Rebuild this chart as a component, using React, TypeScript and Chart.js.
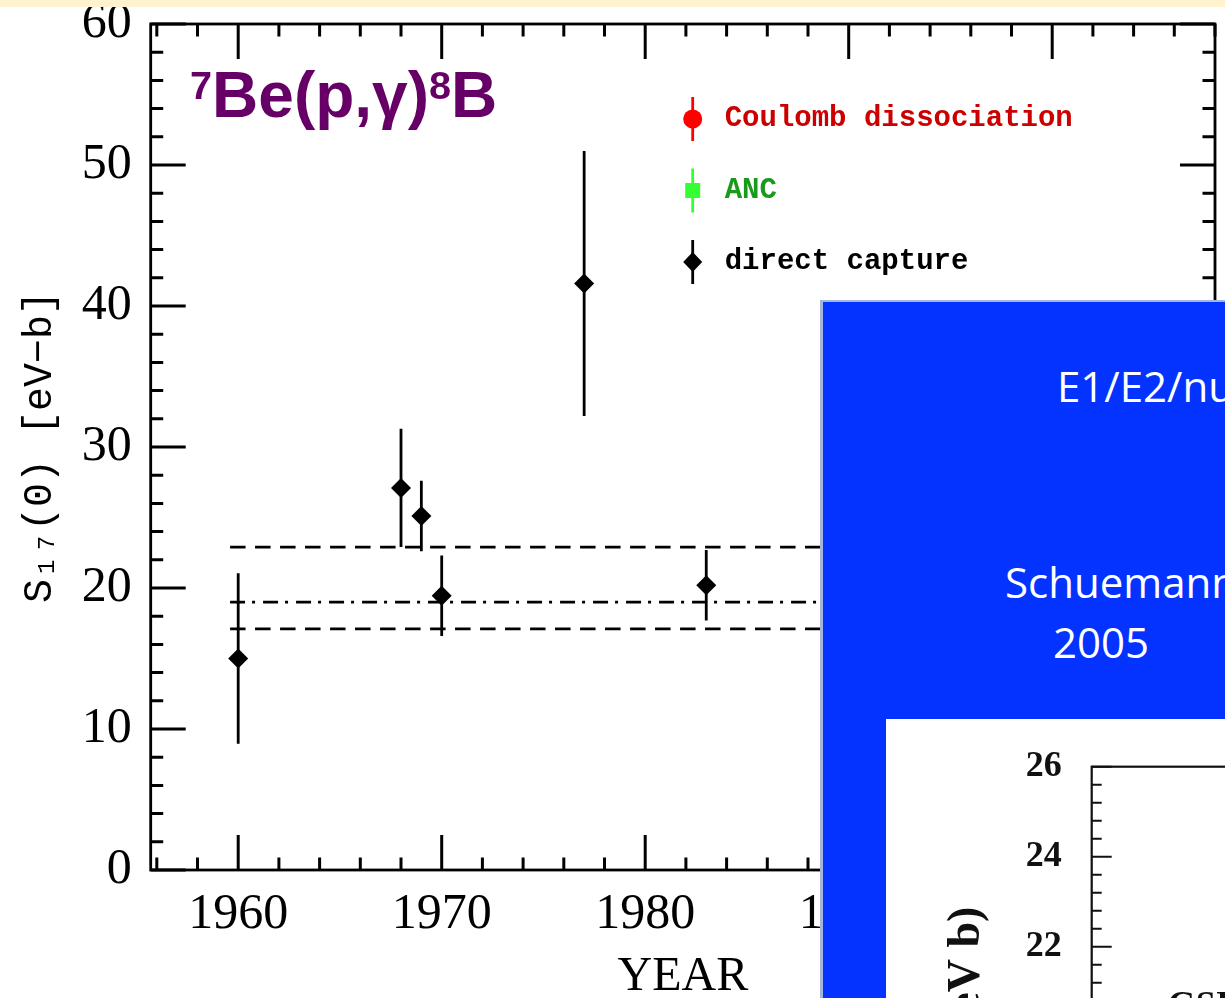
import React, { useEffect, useRef } from 'react';
import { Chart, registerables } from 'chart.js';

Chart.register(...registerables);

// ---------------- main plot data ----------------
const captureYears = [1960, 1968, 1969, 1970, 1977, 1983];
const captureS17 = [15.0, 27.1, 25.1, 19.45, 41.6, 20.2];
const captureErr = [6.05, 4.2, 2.5, 2.85, 9.4, 2.5];

const coulombYears: number[] = [];
const coulombS17: number[] = [];
const coulombErr: number[] = [];

const ancYears: number[] = [];
const ancS17: number[] = [];
const ancErr: number[] = [];

const bandYears = [1959.6, 2008];
const bandUpper = [22.9, 22.9];
const bandMean = [19.0, 19.0];
const bandLower = [17.1, 17.1];

const xTickLabels = [1960, 1970, 1980, 1990, 2000];
const yTickLabels = [0, 10, 20, 30, 40, 50, 60];
const xRange = [1955.7, 2008];
const yRange = [0, 60];

// ---------------- inset plot data ----------------
const insetYTickLabels = [18, 20, 22, 24, 26];
const insetYRange = [18, 26];
const insetXRange = [0, 1];

const FONT_MONO = '"Liberation Mono", "DejaVu Sans Mono", monospace';
const FONT_SERIF = '"Liberation Serif", "DejaVu Serif", serif';

type TickSpec = {
  xMinor: number;
  xMajor: number;
  yMinor: number;
  yMajor: number;
  majorLen: number;
  minorLen: number;
  frameWidth: number;
  tickWidth: number;
  color: string;
};

function frameTicksPlugin(spec: TickSpec) {
  const isMajor = (v: number, step: number) => Math.abs(v / step - Math.round(v / step)) < 1e-6;
  return {
    id: 'frameTicks',
    afterDraw(chart: any) {
      const { ctx, chartArea: a, scales } = chart;
      const xs = scales.x;
      const ys = scales.y;
      ctx.save();
      ctx.strokeStyle = spec.color;
      ctx.lineCap = 'butt';
      ctx.lineWidth = spec.tickWidth;
      if (spec.xMinor > 0) {
        const start = Math.ceil(xs.min / spec.xMinor - 1e-9);
        for (let i = start; i * spec.xMinor <= xs.max + 1e-9; i++) {
          const v = i * spec.xMinor;
          const px = xs.getPixelForValue(v);
          const len = isMajor(v, spec.xMajor) ? spec.majorLen : spec.minorLen;
          ctx.beginPath();
          ctx.moveTo(px, a.bottom);
          ctx.lineTo(px, a.bottom - len);
          ctx.moveTo(px, a.top);
          ctx.lineTo(px, a.top + len);
          ctx.stroke();
        }
      }
      if (spec.yMinor > 0) {
        const start = Math.ceil(ys.min / spec.yMinor - 1e-9);
        for (let i = start; i * spec.yMinor <= ys.max + 1e-9; i++) {
          const v = i * spec.yMinor;
          const py = ys.getPixelForValue(v);
          const len = isMajor(v, spec.yMajor) ? spec.majorLen : spec.minorLen;
          ctx.beginPath();
          ctx.moveTo(a.left, py);
          ctx.lineTo(a.left + len, py);
          ctx.moveTo(a.right, py);
          ctx.lineTo(a.right - len, py);
          ctx.stroke();
        }
      }
      ctx.lineWidth = spec.frameWidth;
      ctx.strokeRect(a.left, a.top, a.right - a.left, a.bottom - a.top);
      ctx.restore();
    },
  };
}

const errorBarPlugin = {
  id: 'errorBars',
  beforeDatasetsDraw(chart: any) {
    const { ctx, chartArea: a } = chart;
    const ys = chart.scales.y;
    ctx.save();
    ctx.beginPath();
    ctx.rect(a.left, a.top, a.right - a.left, a.bottom - a.top);
    ctx.clip();
    chart.data.datasets.forEach((ds: any, i: number) => {
      if (!ds.errors) return;
      const meta = chart.getDatasetMeta(i);
      meta.data.forEach((el: any, j: number) => {
        const v = ds.data[j].y;
        const e = ds.errors[j];
        ctx.strokeStyle = ds.borderColor;
        ctx.lineWidth = 2.8;
        ctx.beginPath();
        ctx.moveTo(el.x, ys.getPixelForValue(v + e));
        ctx.lineTo(el.x, ys.getPixelForValue(v - e));
        ctx.stroke();
      });
    });
    ctx.restore();
  },
};

const insideLegendPlugin = {
  id: 'insideLegend',
  afterDatasetsDraw(chart: any) {
    const { ctx, chartArea: a } = chart;
    const entries = chart.data.datasets.filter((d: any) => d.legendTextColor);
    entries.forEach((ds: any, i: number) => {
      const cx = a.left + 542;
      const cy = a.top + 95 + i * 71.5;
      const tx = a.left + 574;
      ctx.save();
      ctx.strokeStyle = ds.backgroundColor;
      ctx.fillStyle = ds.backgroundColor;
      ctx.lineWidth = 2.8;
      ctx.beginPath();
      ctx.moveTo(cx, cy - 22);
      ctx.lineTo(cx, cy + 22);
      ctx.stroke();
      ctx.beginPath();
      if (ds.pointStyle === 'circle') {
        ctx.arc(cx, cy, 9.5, 0, Math.PI * 2);
      } else if (ds.pointStyle === 'rect') {
        ctx.rect(cx - 7.5, cy - 7.5, 15, 15);
      } else {
        ctx.moveTo(cx, cy - 10);
        ctx.lineTo(cx + 9.5, cy);
        ctx.lineTo(cx, cy + 10);
        ctx.lineTo(cx - 9.5, cy);
        ctx.closePath();
      }
      ctx.fill();
      ctx.fillStyle = ds.legendTextColor;
      ctx.font = `bold 29px ${FONT_MONO}`;
      ctx.textBaseline = 'middle';
      ctx.textAlign = 'left';
      ctx.fillText(ds.label, tx, cy);
      ctx.restore();
    });
  },
};

const insetLabelsPlugin = {
  id: 'insetLabels',
  afterDraw(chart: any) {
    const { ctx, chartArea: a } = chart;
    ctx.save();
    ctx.fillStyle = '#111';
    ctx.font = `bold 46px ${FONT_SERIF}`;
    ctx.translate(a.left - 113, a.top + 140);
    ctx.rotate(-Math.PI / 2);
    ctx.textAlign = 'right';
    ctx.textBaseline = 'alphabetic';
    ctx.fillText('S\u2081\u2087(0) (eV b)', 0, 0);
    ctx.restore();
    ctx.save();
    ctx.fillStyle = '#111';
    ctx.font = `bold 36px ${FONT_SERIF}`;
    ctx.textAlign = 'left';
    ctx.textBaseline = 'alphabetic';
    ctx.fillText('GSI', a.left + 76, a.top + 249);
    ctx.restore();
  },
};

const pts = (xs: number[], ys: number[]) => xs.map((x, i) => ({ x, y: ys[i] }));

const noScalePadding = (s: any) => {
  s.paddingTop = 0;
  s.paddingBottom = 0;
  s.paddingLeft = 0;
  s.paddingRight = 0;
};

function buildMainConfig(): any {
  return {
    type: 'scatter',
    data: {
      datasets: [
        {
          label: 'upper',
          data: pts(bandYears, bandUpper),
          showLine: true,
          borderColor: '#000',
          borderWidth: 2.6,
          borderDash: [15.5, 9.5],
          pointRadius: 0,
          fill: false,
        },
        {
          label: 'mean',
          data: pts(bandYears, bandMean),
          showLine: true,
          borderColor: '#000',
          borderWidth: 2.6,
          borderDash: [15, 7, 3, 8],
          pointRadius: 0,
          fill: false,
        },
        {
          label: 'lower',
          data: pts(bandYears, bandLower),
          showLine: true,
          borderColor: '#000',
          borderWidth: 2.6,
          borderDash: [15.5, 9.5],
          pointRadius: 0,
          fill: false,
        },
        {
          label: 'Coulomb dissociation',
          data: pts(coulombYears, coulombS17),
          errors: coulombErr,
          pointStyle: 'circle',
          pointRadius: 9,
          backgroundColor: '#FF0000',
          borderColor: '#FF0000',
          borderWidth: 0,
          legendTextColor: '#CC0000',
        },
        {
          label: 'ANC',
          data: pts(ancYears, ancS17),
          errors: ancErr,
          pointStyle: 'rect',
          pointRadius: 9.5,
          backgroundColor: '#33FF33',
          borderColor: '#33FF33',
          borderWidth: 0,
          legendTextColor: '#1A9A1A',
        },
        {
          label: 'direct capture',
          data: pts(captureYears, captureS17),
          errors: captureErr,
          pointStyle: 'rectRot',
          pointRadius: 10,
          backgroundColor: '#000',
          borderColor: '#000',
          borderWidth: 0,
          legendTextColor: '#000',
        },
      ],
    },
    options: {
      responsive: false,
      animation: false,
      devicePixelRatio: 1,
      layout: { padding: { top: 24, right: 9, left: 0, bottom: 0 } },
      plugins: { legend: { display: false }, tooltip: { enabled: false } },
      scales: {
        x: {
          type: 'linear',
          position: 'bottom',
          min: xRange[0],
          max: xRange[1],
          afterBuildTicks: (s: any) => {
            s.ticks = xTickLabels.map((value) => ({ value }));
          },
          afterFit: (s: any) => {
            s.height = 128;
            noScalePadding(s);
          },
          grid: { display: false, drawTicks: false },
          border: { display: false },
          ticks: {
            color: '#000',
            padding: 20,
            maxRotation: 0,
            autoSkip: false,
            font: { family: FONT_SERIF, size: 50, lineHeight: 1 },
            callback: (v: any) => String(v),
          },
          title: {
            display: true,
            text: 'YEAR',
            color: '#000',
            font: { family: FONT_SERIF, size: 48, lineHeight: 0.85 },
            padding: 0,
          },
        },
        y: {
          type: 'linear',
          position: 'left',
          min: yRange[0],
          max: yRange[1],
          afterBuildTicks: (s: any) => {
            s.ticks = yTickLabels.map((value) => ({ value }));
          },
          afterFit: (s: any) => {
            s.width = 150.7;
            noScalePadding(s);
          },
          grid: { display: false, drawTicks: false },
          border: { display: false },
          ticks: {
            color: '#000',
            padding: 19,
            autoSkip: false,
            font: { family: FONT_SERIF, size: 50, lineHeight: 1 },
            callback: (v: any) => String(v),
          },
          title: {
            display: true,
            text: 'S\u2081\u2087(0) [eV\u2212b]',
            color: '#000',
            font: { family: FONT_MONO, size: 40, lineHeight: 1 },
            padding: { top: 20, bottom: 0 },
          },
        },
      },
    },
    plugins: [
      errorBarPlugin,
      insideLegendPlugin,
      frameTicksPlugin({
        xMinor: 2,
        xMajor: 10,
        yMinor: 2,
        yMajor: 10,
        majorLen: 35,
        minorLen: 12.5,
        frameWidth: 2.8,
        tickWidth: 3,
        color: '#000',
      }),
    ],
  };
}

function buildInsetConfig(): any {
  return {
    type: 'scatter',
    data: { datasets: [{ label: 'S17(0)', data: [] }] },
    options: {
      responsive: false,
      animation: false,
      devicePixelRatio: 1,
      layout: { padding: { top: 47.7, right: 20, left: 0, bottom: 0 } },
      plugins: { legend: { display: false }, tooltip: { enabled: false } },
      scales: {
        x: {
          type: 'linear',
          min: insetXRange[0],
          max: insetXRange[1],
          afterFit: (s: any) => {
            s.height = 92.3;
            noScalePadding(s);
          },
          grid: { display: false, drawTicks: false },
          border: { display: false },
          ticks: { display: false },
        },
        y: {
          type: 'linear',
          min: insetYRange[0],
          max: insetYRange[1],
          afterBuildTicks: (s: any) => {
            s.ticks = insetYTickLabels.map((value) => ({ value }));
          },
          afterFit: (s: any) => {
            s.width = 205.7;
            noScalePadding(s);
          },
          grid: { display: false, drawTicks: false },
          border: { display: false },
          ticks: {
            color: '#111',
            padding: 30,
            autoSkip: false,
            font: { family: FONT_SERIF, size: 36, weight: 'bold', lineHeight: 1 },
            callback: (v: any) => String(v),
          },
        },
      },
    },
    plugins: [
      frameTicksPlugin({
        xMinor: 0,
        xMajor: 1,
        yMinor: 0.4,
        yMajor: 2,
        majorLen: 20,
        minorLen: 10,
        frameWidth: 2.2,
        tickWidth: 2,
        color: '#111',
      }),
      insetLabelsPlugin,
    ],
  };
}

export default function App() {
  const mainRef = useRef<HTMLCanvasElement>(null);
  const insetRef = useRef<HTMLCanvasElement>(null);

  useEffect(() => {
    const c1 = new Chart(mainRef.current as HTMLCanvasElement, buildMainConfig());
    const c2 = new Chart(insetRef.current as HTMLCanvasElement, buildInsetConfig());
    return () => {
      c1.destroy();
      c2.destroy();
    };
  }, []);

  const whiteText: React.CSSProperties = {
    position: 'absolute',
    color: '#fff',
    fontFamily: '"Open Sans", "Noto Sans", sans-serif',
    fontSize: 42,
    lineHeight: '42px',
    whiteSpace: 'nowrap',
  };

  const sup: React.CSSProperties = {
    fontSize: '0.62em',
    position: 'relative',
    top: '-0.45em',
  };

  return (
    <div
      style={{
        position: 'fixed',
        left: 0,
        top: 0,
        width: 1225,
        height: 998,
        overflow: 'hidden',
        background: '#fff',
      }}
    >
      <canvas
        ref={mainRef}
        width={1225}
        height={998}
        style={{ position: 'absolute', left: 0, top: 0, width: 1225, height: 998 }}
      />
      <div
        style={{ position: 'absolute', left: 0, top: 0, width: 1225, height: 7, background: '#FFF2CC' }}
      />
      <div
        style={{
          position: 'absolute',
          left: 190,
          top: 63,
          color: '#660066',
          fontFamily: '"Liberation Sans", Arial, sans-serif',
          fontWeight: 'bold',
          fontSize: 64,
          lineHeight: '64px',
          whiteSpace: 'nowrap',
        }}
      >
        <span style={sup}>7</span>Be(p,γ)<span style={sup}>8</span>B
      </div>
      <div
        style={{
          position: 'absolute',
          left: 820,
          top: 300,
          width: 430,
          height: 720,
          boxSizing: 'border-box',
          background: '#0433FF',
          borderLeft: '3px solid #A3B6D9',
          borderTop: '2px solid #A3B6D9',
        }}
      />
      <div style={{ ...whiteText, left: 1057, top: 365 }}>E1/E2/nuclear interference</div>
      <div style={{ ...whiteText, left: 1005, top: 561 }}>Schuemann et al.</div>
      <div style={{ ...whiteText, left: 1053, top: 621 }}>2005</div>
      <div
        style={{
          position: 'absolute',
          left: 886,
          top: 719,
          width: 400,
          height: 300,
          background: '#fff',
          overflow: 'hidden',
        }}
      >
        <canvas
          ref={insetRef}
          width={600}
          height={500}
          style={{ position: 'absolute', left: 0, top: 0, width: 600, height: 500 }}
        />
      </div>
    </div>
  );
}
